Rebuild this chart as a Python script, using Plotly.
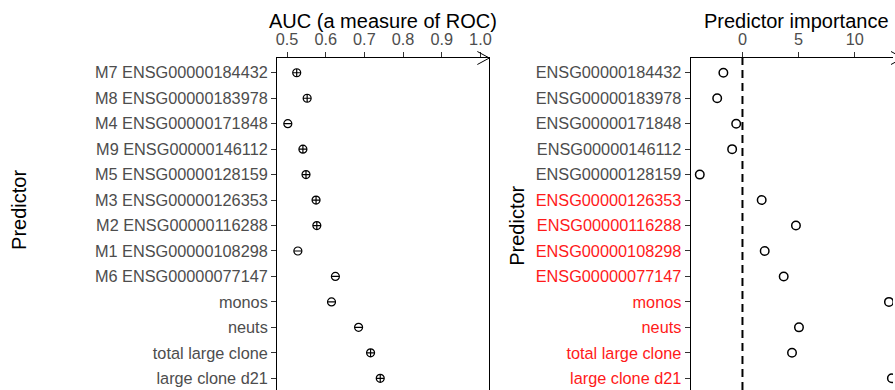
import plotly.graph_objects as go

# ---------------- data ----------------
predictors = [
    "ENSG00000184432", "ENSG00000183978", "ENSG00000171848", "ENSG00000146112",
    "ENSG00000128159", "ENSG00000126353", "ENSG00000116288", "ENSG00000108298",
    "ENSG00000077147", "monos", "neuts", "total large clone", "large clone d21",
]
module_prefix = ["M7", "M8", "M4", "M9", "M5", "M3", "M2", "M1", "M6", "", "", "", ""]
auc = [0.525, 0.552, 0.502, 0.541, 0.549, 0.575, 0.577, 0.528, 0.625, 0.615, 0.685, 0.716, 0.741]
auc_direction = ["+", "+", "-", "+", "+", "+", "+", "-", "-", "-", "-", "+", "+"]
importance = [-1.7, -2.25, -0.56, -0.92, -3.8, 1.71, 4.76, 1.98, 3.67, 13.04, 5.03, 4.41, 13.3]
selected = [False, False, False, False, False, True, True, True, True, True, True, True, True]
auc_ticks = [0.5, 0.6, 0.7, 0.8, 0.9, 1.0]
imp_ticks = [0, 5, 10, 15]

# ---------------- styling ----------------
W, H = 895, 390
FONT = "Liberation Sans, Arial, Helvetica, sans-serif"
GREY = "#4d4d4d"
RED = "#ff1a1a"
TOP, BOTTOM = 58, 0
plot_h = H - TOP - BOTTOM

left_labels = [(m + " " + p) if m else p for m, p in zip(module_prefix, predictors)]
right_ticktext = [
    f'<span style="color:{RED if s else GREY}">{p}</span>' for p, s in zip(predictors, selected)
]

fig = go.Figure()

# Left panel: AUC with direction glyphs
fig.add_trace(go.Scatter(
    x=auc, y=left_labels, mode="markers", xaxis="x", yaxis="y",
    marker=dict(symbol=["circle-cross-open" if d == "+" else "circle-open" for d in auc_direction],
                size=8, color="black", line=dict(width=1.2, color="black")),
    showlegend=False, hoverinfo="x+y",
))
minus_x = [a for a, d in zip(auc, auc_direction) if d == "-"]
minus_y = [l for l, d in zip(left_labels, auc_direction) if d == "-"]
fig.add_trace(go.Scatter(
    x=minus_x, y=minus_y, mode="markers", xaxis="x", yaxis="y",
    marker=dict(symbol="line-ew-open", size=8 / 1.4, color="black", line=dict(width=1.2, color="black")),
    showlegend=False, hoverinfo="skip",
))

# Right panel: predictor importance
fig.add_trace(go.Scatter(
    x=importance, y=predictors, mode="markers", xaxis="x2", yaxis="y2",
    marker=dict(symbol="circle-open", size=8.5, color="black", line=dict(width=1.5, color="black")),
    showlegend=False, hoverinfo="x+y",
))

d1 = [277 / W, 490 / W]
d2 = [692 / W, 1.0]
yrange = [12.46, -0.58]

axis_common = dict(
    showline=True, linecolor="black", linewidth=1,
    ticks="outside", ticklen=5, tickwidth=1, tickcolor="#333333",
    showgrid=False, zeroline=False,
    tickfont=dict(family=FONT, size=16.3, color=GREY),
)

fig.update_layout(
    width=W, height=H,
    margin=dict(l=0, r=0, t=TOP, b=BOTTOM),
    paper_bgcolor="white", plot_bgcolor="white",
    font=dict(family=FONT),
    xaxis=dict(domain=d1, range=[0.4742, 1.0232], side="top", anchor="y",
               tickvals=auc_ticks, tickformat=".1f", **axis_common),
    yaxis=dict(domain=[0, 1], type="category", categoryorder="array", categoryarray=left_labels,
               range=yrange, anchor="x", mirror=True, **axis_common),
    xaxis2=dict(domain=d2, range=[-4.61, 13.40], side="top", anchor="y2",
                tickvals=imp_ticks, **axis_common),
    yaxis2=dict(domain=[0, 1], type="category", categoryorder="array", categoryarray=predictors,
                tickvals=predictors, ticktext=right_ticktext,
                range=yrange, anchor="x2", **axis_common),
)

def py(p):
    return (H - BOTTOM - p) / plot_h

fig.update_layout(annotations=[
    dict(text="AUC (a measure of ROC)", x=383.5 / W, y=py(21), xref="paper", yref="paper",
         xanchor="center", yanchor="middle", showarrow=False,
         font=dict(family=FONT, size=20, color="black")),
    dict(text="Predictor importance", x=798 / W, y=py(21), xref="paper", yref="paper",
         xanchor="center", yanchor="middle", showarrow=False,
         font=dict(family=FONT, size=20, color="black")),
    dict(text="Predictor", x=18 / W, y=py(210), xref="paper", yref="paper", textangle=-90,
         xanchor="center", yanchor="middle", showarrow=False,
         font=dict(family=FONT, size=20, color="black")),
    dict(text="Predictor", x=517.5 / W, y=py(226), xref="paper", yref="paper", textangle=-90,
         xanchor="center", yanchor="middle", showarrow=False,
         font=dict(family=FONT, size=20, color="black")),
])

# zero reference line and axis arrowheads
shapes = [
    dict(type="line", xref="x2", yref="y2 domain", x0=0, x1=0, y0=0, y1=1,
         line=dict(color="black", width=2, dash="8px,5px")),
]
for end in (d1[1], 1.0):
    tip = 0 if end != 1.0 else 10
    for dy in (6.5, -6.5):
        shapes.append(dict(type="line", xref="paper", yref="paper",
                           xsizemode="pixel", ysizemode="pixel", xanchor=end, yanchor=1,
                           x0=tip - 12, y0=dy, x1=tip, y1=0,
                           line=dict(color="black", width=1)))
fig.update_layout(shapes=shapes)

fig.write_html(
    "out.html",
    config={"displayModeBar": False},
    post_script="document.body.style.margin='0';document.body.style.overflow='hidden';",
)
